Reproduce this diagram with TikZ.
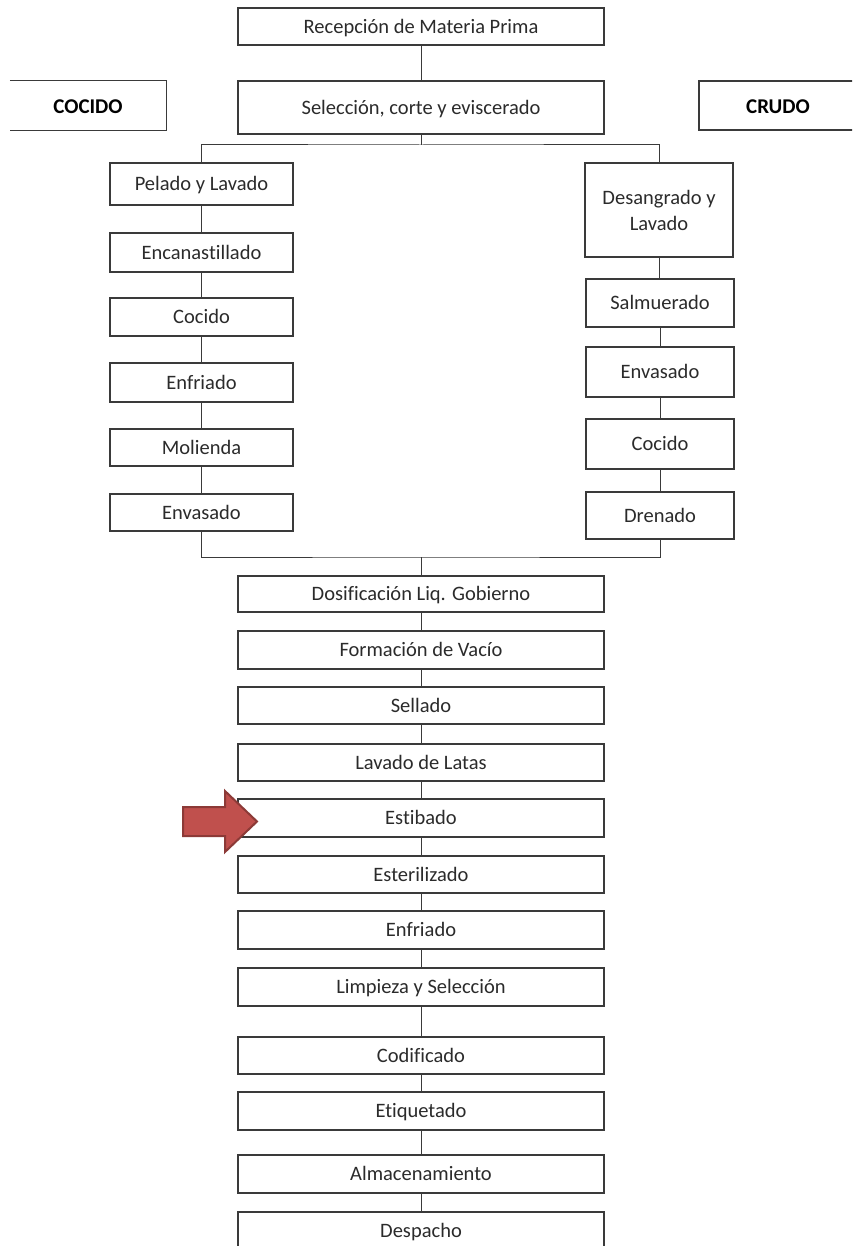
\documentclass[tikz,border=0pt]{standalone}
\usepackage{fontspec}
\setmainfont[RawFeature=-liga]{Carlito}
\definecolor{ink}{HTML}{2B2B2B}
\definecolor{edge}{HTML}{3A3A3A}
\definecolor{arrowfill}{HTML}{C0504D}
\definecolor{arrowedge}{HTML}{8C3A37}
\tikzset{
  stepbox/.style={draw=edge, line width=1.2pt, fill=white, text=ink,
    inner sep=0pt, align=center, font=\fontsize{20.5}{26}\selectfont,
    text height=13.5pt, text depth=0pt},
  wide/.style={stepbox, minimum width=366pt},
  leftcol/.style={stepbox, minimum width=183pt},
  rightcol/.style={stepbox, minimum width=148pt},
  tagfont/.style={font=\fontsize{21}{24}\selectfont\bfseries, text=black,
    text height=17pt, text depth=0pt},
  link/.style={draw=edge, line width=1pt},
}
\begin{document}
\begin{tikzpicture}[x=1pt, y=-1pt]
\useasboundingbox (0,0) rectangle (852,1246);
\clip (0,0) rectangle (852,1246);

% main trunk, top
\node[wide, minimum height=37pt] (rec) at (421,26.5) {Recepción de Materia Prima};
\node[wide, minimum height=53pt] (sel) at (421,107.5) {Selección, corte y eviscerado};

% branch labels
\node[tagfont, inner sep=0pt, minimum width=156pt, minimum height=49pt] (cocido) at (88,105.5) {COCIDO};
\draw[edge, line width=1.2pt] (cocido.north west) -- (cocido.north east)
  -- (cocido.south east) -- (cocido.south west);
\node[stepbox, tagfont, minimum width=158pt, minimum height=49pt] (crudo) at (778,105.5) {CRUDO};

% cooked branch
\node[leftcol, minimum height=42pt] (pel) at (201.5,184) {Pelado y Lavado};
\node[leftcol, minimum height=39pt] (enc) at (201.5,252.5) {Encanastillado};
\node[leftcol, minimum height=38pt] (cocL) at (201.5,317) {Cocido};
\node[leftcol, minimum height=39pt] (enfL) at (201.5,382.5) {Enfriado};
\node[leftcol, minimum height=37pt] (mol) at (201.5,447.5) {Molienda};
\node[leftcol, minimum height=37pt] (envL) at (201.5,512.5) {Envasado};

% raw branch
\node[rightcol, text height={}, text depth={}, minimum height=94pt] (desang) at (659,210) {Desangrado y\\Lavado};
\node[rightcol, minimum height=48pt] (sal) at (660,303) {Salmuerado};
\node[rightcol, minimum height=50pt] (envR) at (660,372) {Envasado};
\node[rightcol, minimum height=50pt] (cocR) at (660,444) {Cocido};
\node[rightcol, minimum height=47pt] (dren) at (660,515.5) {Drenado};

% main trunk, bottom
\node[wide, minimum height=36pt] (dos) at (421,594) {Dosificación Liq. Gobierno};
\node[wide, minimum height=38pt] (vac) at (421,650) {Formación de Vacío};
\node[wide, minimum height=37pt] (sell) at (421,705.5) {Sellado};
\node[wide, minimum height=37pt] (lav) at (421,762.5) {Lavado de Latas};
\node[wide, minimum height=38pt] (est) at (421,818) {Estibado};
\node[wide, minimum height=37pt] (ester) at (421,874.5) {Esterilizado};
\node[wide, minimum height=38pt] (enf) at (421,930) {Enfriado};
\node[wide, minimum height=38pt] (lim) at (421,987) {Limpieza y Selección};
\node[wide, minimum height=37pt] (cod) at (421,1055.5) {Codificado};
\node[wide, minimum height=38pt] (eti) at (421,1111) {Etiquetado};
\node[wide, minimum height=38pt] (alm) at (421,1174) {Almacenamiento};
\node[wide, minimum height=38pt] (desp) at (421,1231) {Despacho};

% split and merge points
\coordinate (split) at (421,145);
\coordinate (merge) at (421,557);

% connectors
\draw[link] (rec) -- (sel);
\draw[link] (sel) -- (split);
\draw[link] (pel.north) |- (split) -| (desang.north);
\draw[link] (pel) -- (enc);
\draw[link] (enc) -- (cocL);
\draw[link] (cocL) -- (enfL);
\draw[link] (enfL) -- (mol);
\draw[link] (mol) -- (envL);
\draw[link] (desang.south) -- (desang.south |- sal.north);
\draw[link] (sal) -- (envR);
\draw[link] (envR) -- (cocR);
\draw[link] (cocR) -- (dren);
\draw[link] (envL.south) |- (merge) -| (dren.south);
\draw[link] (merge) -- (dos);
\draw[link] (dos) -- (vac);
\draw[link] (vac) -- (sell);
\draw[link] (sell) -- (lav);
\draw[link] (lav) -- (est);
\draw[link] (est) -- (ester);
\draw[link] (ester) -- (enf);
\draw[link] (enf) -- (lim);
\draw[link] (lim) -- (cod);
\draw[link] (cod) -- (eti);
\draw[link] (eti) -- (alm);
\draw[link] (alm) -- (desp);

% block arrow pointing at the stowing step
\draw[fill=arrowfill, draw=arrowedge, line width=2pt, line join=miter]
  (183,807) -- (225,807) -- (225,791) -- (257,821.5) -- (225,852)
  -- (225,836) -- (183,836) -- cycle;
\end{tikzpicture}
\end{document}
